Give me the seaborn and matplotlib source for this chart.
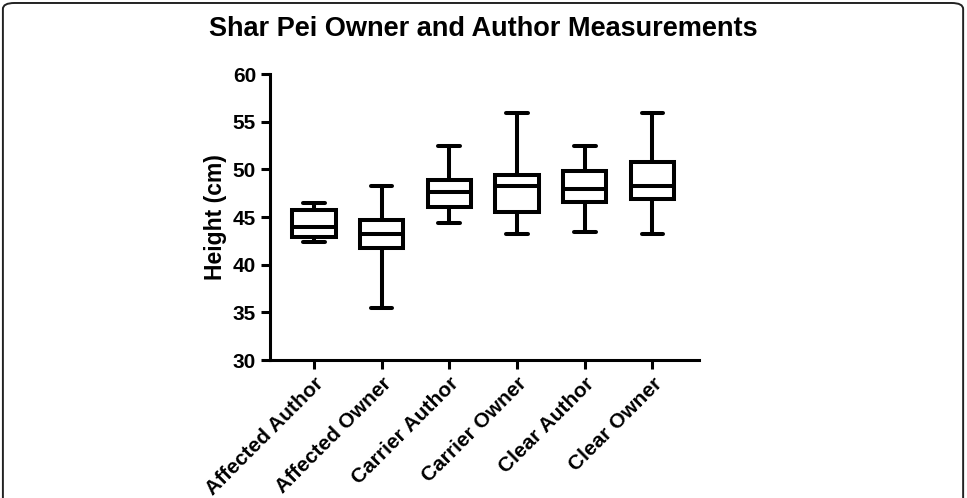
import pandas as pd
import seaborn as sns
import matplotlib.pyplot as plt
from matplotlib.patches import FancyBboxPatch

# groups and box stats: min, q1, median, q3, max
groups = ["Affected Author", "Affected Owner", "Carrier Author",
          "Carrier Owner", "Clear Author", "Clear Owner"]
affected_author = [42.4, 42.9, 43.9, 45.7, 46.5]
affected_owner = [35.5, 41.7, 43.2, 44.7, 48.2]
carrier_author = [44.4, 46.0, 47.6, 48.9, 52.5]
carrier_owner = [43.2, 45.5, 48.2, 49.4, 55.9]
clear_author = [43.4, 46.6, 47.9, 49.85, 52.5]
clear_owner = [43.2, 46.9, 48.2, 50.8, 55.9]
y_ticks = [30, 35, 40, 45, 50, 55, 60]


def shar_pei_box():
    values = [affected_author, affected_owner, carrier_author,
              carrier_owner, clear_author, clear_owner]
    rows = []
    for g, vals in zip(groups, values):
        for v in vals:
            rows.append({"group": g, "height": v})
    df = pd.DataFrame(rows)

    sns.set_style("ticks")
    plt.rcParams["font.family"] = ["Liberation Sans", "DejaVu Sans"]
    plt.rcParams["font.weight"] = "bold"
    plt.rcParams["text.color"] = "black"
    plt.rcParams["axes.labelcolor"] = "black"
    plt.rcParams["xtick.color"] = "black"
    plt.rcParams["ytick.color"] = "black"

    fig = plt.figure(figsize=(9.67, 4.98), dpi=100)
    ax = fig.add_axes([0.2792, 0.2771, 0.4437, 0.5743])

    sns.boxplot(data=df, x="group", y="height", order=groups, whis=(0, 100),
                width=0.64, color="white", linecolor="black", linewidth=2.9,
                ax=ax)

    ax.set_ylim(30, 60)
    ax.set_yticks(y_ticks)
    ax.set_xlim(-0.65, 5.69)
    ax.set_xlabel("")
    ax.set_ylabel("Height (cm)", fontsize=16.5, fontweight="bold", labelpad=4)
    ax.tick_params(axis="both", length=6.5, width=2.2, labelsize=15, color="black")
    for lab in ax.get_xticklabels():
        lab.set_rotation(45)
        lab.set_ha("right")
        lab.set_rotation_mode("anchor")
        lab.set_fontweight("bold")
    for lab in ax.get_yticklabels():
        lab.set_fontweight("bold")
    sns.despine(ax=ax)
    for s in ["left", "bottom"]:
        ax.spines[s].set_linewidth(2.2)
        ax.spines[s].set_color("black")

    fig.text(0.5, 0.942, "Shar Pei Owner and Author Measurements",
             ha="center", va="center", fontsize=19.5, fontweight="bold",
             family=["Liberation Sans Narrow", "Liberation Sans", "DejaVu Sans"])

    frame = FancyBboxPatch((0.003, -0.1), 0.993, 1.094,
                           boxstyle="round,pad=0,rounding_size=0.012",
                           transform=fig.transFigure, fill=False,
                           edgecolor="#222222", linewidth=1.4)
    fig.patches.append(frame)

    fig.savefig("out.png", dpi=100)


def main():
    shar_pei_box()


if (__name__ == '__main__'):
    main()
